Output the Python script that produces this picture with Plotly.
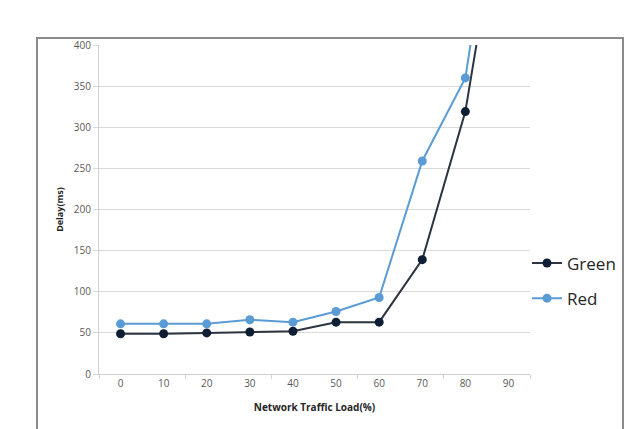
import plotly.graph_objects as go

load = [0, 10, 20, 30, 40, 50, 60, 70, 80, 90]
green = [49, 49, 50, 51, 52, 63, 63, 139, 319, 635]
red = [61, 61, 61, 66, 63, 76, 93, 259, 360, 700]
y_ticks = [0, 50, 100, 150, 200, 250, 300, 350, 400]

fig = go.Figure()
fig.add_trace(go.Scatter(x=load, y=green, name="Green", mode="lines+markers",
                         line=dict(color="#2b3440", width=2),
                         marker=dict(color="#0f1e33", size=9),
                         legendgroup="g", cliponaxis=True))
fig.add_trace(go.Scatter(x=load, y=red, name="Red", mode="lines+markers",
                         line=dict(color="#5b9bd5", width=2),
                         marker=dict(color="#5b9bd5", size=9),
                         legendgroup="r", cliponaxis=True))

W, H = 629, 429
L, R, T, B = 99, 99, 45, 55
pw, ph = W - L - R, H - T - B

def px(x):
    return (x - L) / pw

def py(y):
    return (H - B - y) / ph

fig.add_shape(type="rect", xref="paper", yref="paper",
              x0=px(37), x1=px(623), y0=py(445), y1=py(38),
              line=dict(color="#8a8a8a", width=2), layer="below")

fig.update_layout(
    width=W, height=H,
    margin=dict(l=L, r=R, t=T, b=B, autoexpand=False),
    plot_bgcolor="white", paper_bgcolor="white",
    font=dict(family="Open Sans, sans-serif", color="#595959"),
    showlegend=True,
    legend=dict(x=px(527), y=py(281), xanchor="left", yanchor="middle",
                font=dict(size=17, color="#262626"), tracegroupgap=10,
                itemwidth=30, bgcolor="rgba(0,0,0,0)"),
    xaxis=dict(range=[-5, 95], tickvals=load, ticktext=[str(v) for v in load],
               ticks="", showgrid=False, showline=True, linecolor="#d0d0d0",
               linewidth=1, zeroline=False, tickfont=dict(size=10),
               minor=dict(tickvals=[-5, 15, 35, 55, 75, 95], ticks="outside",
                          ticklen=4, tickcolor="#d0d0d0", showgrid=False),
               title=dict(text="<b>Network Traffic Load(%)</b>",
                          font=dict(size=10, color="#262626"), standoff=14)),
    yaxis=dict(range=[0, 400], tickvals=y_ticks, showgrid=True,
               gridcolor="#d9d9d9", gridwidth=1, showline=True,
               linecolor="#d0d0d0", zeroline=False, ticks="outside",
               ticklen=5, tickcolor="#d9d9d9", tickfont=dict(size=10),
               title=dict(text="<b>Delay(ms)</b>",
                          font=dict(size=9, color="#262626"), standoff=8)),
)

fig.write_html("out.html")
